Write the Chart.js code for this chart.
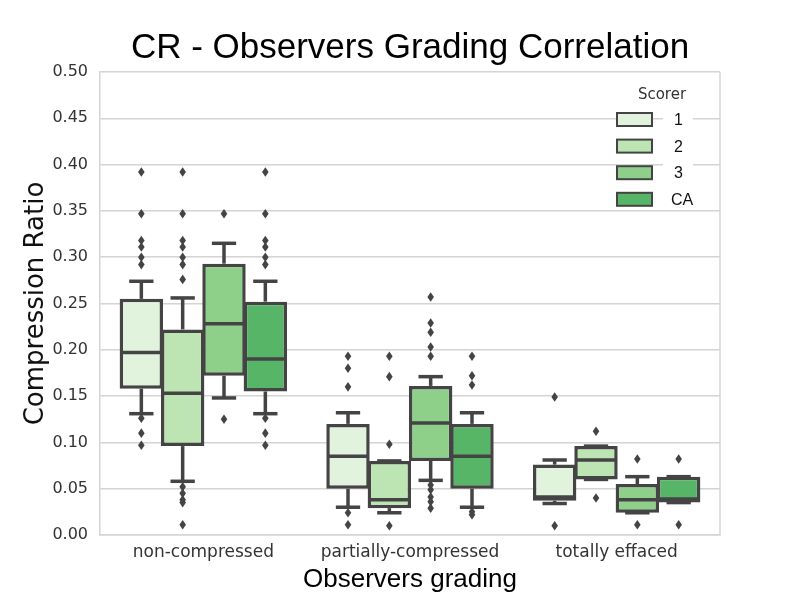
<!DOCTYPE html>
<html>
<head>
<meta charset="utf-8">
<script src="https://cdn.jsdelivr.net/npm/chart.js@4.4.0/dist/chart.umd.min.js"></script>
<style>
    html, body { margin: 0; padding: 0; background: #fff; }
</style>
</head>
<body>
<canvas id="myChart" width="800" height="600"></canvas>
<script>
const categories = ['non-compressed', 'partially-compressed', 'totally effaced'];
const scorers = ['1', '2', '3', 'CA'];
const yTicks = [0, 0.05, 0.10, 0.15, 0.20, 0.25, 0.30, 0.35, 0.40, 0.45, 0.50];

// rows = scorer, columns = category
const whiskerLow = [
    [0.131, 0.030, 0.034],
    [0.058, 0.024, 0.060],
    [0.148, 0.059, 0.024],
    [0.131, 0.030, 0.035]
];
const q1Values = [
    [0.158, 0.050, 0.037],
    [0.096, 0.029, 0.060],
    [0.172, 0.080, 0.024],
    [0.155, 0.050, 0.035]
];
const medians = [
    [0.197, 0.085, 0.041],
    [0.153, 0.038, 0.081],
    [0.228, 0.121, 0.038],
    [0.190, 0.085, 0.039]
];
const q3Values = [
    [0.255, 0.120, 0.076],
    [0.222, 0.080, 0.096],
    [0.293, 0.161, 0.055],
    [0.252, 0.120, 0.063]
];
const whiskerHigh = [
    [0.274, 0.132, 0.081],
    [0.256, 0.080, 0.096],
    [0.315, 0.171, 0.063],
    [0.274, 0.132, 0.063]
];
const outliers = [
    [[0.392, 0.347, 0.318, 0.311, 0.300, 0.292, 0.126, 0.110, 0.097], [0.193, 0.180, 0.160, 0.024, 0.011], [0.149, 0.010]],
    [[0.392, 0.347, 0.318, 0.311, 0.300, 0.292, 0.276, 0.052, 0.045, 0.038, 0.035, 0.011], [0.193, 0.171, 0.098, 0.010], [0.112, 0.040]],
    [[0.347, 0.125], [0.257, 0.229, 0.219, 0.203, 0.193, 0.054, 0.049, 0.041, 0.036, 0.029], [0.082, 0.011]],
    [[0.392, 0.347, 0.318, 0.311, 0.300, 0.292, 0.126, 0.110, 0.097], [0.193, 0.172, 0.162, 0.025, 0.022], [0.082, 0.011]]
];

const boxColors = ['#e1f3dc', '#bde5b4', '#8ecf8a', '#56b567'];
const lineColor = '#444444';
const gridColor = '#d4d4d4';

// whiskers, caps, medians and fliers on top of the floating bars
const boxPlotExtras = {
    id: 'boxPlotExtras',
    afterDatasetsDraw(chart) {
        const c = chart.ctx;
        const y = chart.scales.y;
        c.save();
        c.strokeStyle = lineColor;
        c.fillStyle = lineColor;
        c.lineWidth = 3.5;
        const line = (x1, y1, x2, y2) => {
            c.beginPath();
            c.moveTo(x1, y1);
            c.lineTo(x2, y2);
            c.stroke();
        };
        chart.data.datasets.forEach((ds, i) => {
            const meta = chart.getDatasetMeta(i);
            meta.data.forEach((bar, j) => {
                const x = bar.x;
                const w = bar.width;
                const cap = w * 0.28;
                const yq1 = y.getPixelForValue(q1Values[i][j]);
                const yq3 = y.getPixelForValue(q3Values[i][j]);
                const ylo = y.getPixelForValue(whiskerLow[i][j]);
                const yhi = y.getPixelForValue(whiskerHigh[i][j]);
                const ym = y.getPixelForValue(medians[i][j]);
                line(x, yq3, x, yhi);
                line(x, yq1, x, ylo);
                line(x - cap, yhi, x + cap, yhi);
                line(x - cap, ylo, x + cap, ylo);
                line(x - w / 2 + 1.5, ym, x + w / 2 - 1.5, ym);
                outliers[i][j].forEach(v => {
                    const py = y.getPixelForValue(v);
                    c.beginPath();
                    c.moveTo(x, py - 4.8);
                    c.lineTo(x + 3.3, py);
                    c.lineTo(x, py + 4.8);
                    c.lineTo(x - 3.3, py);
                    c.closePath();
                    c.fill();
                });
            });
        });
        c.restore();
    },
    afterDraw(chart) {
        const c = chart.ctx;
        const area = chart.chartArea;
        c.save();
        // right spine
        c.strokeStyle = gridColor;
        c.lineWidth = 1.5;
        c.beginPath();
        c.moveTo(area.right, area.top);
        c.lineTo(area.right, area.bottom);
        c.stroke();

        // legend
        c.fillStyle = '#333333';
        c.font = '15px "DejaVu Sans"';
        c.textAlign = 'center';
        c.textBaseline = 'middle';
        c.fillText('Scorer', 662, 95);
        chart.data.datasets.forEach((ds, i) => {
            const cy = 119.5 + i * 26.6;
            c.fillStyle = '#ffffff';
            c.fillRect(663, cy - 9, 30, 18);
            c.fillStyle = ds.backgroundColor;
            c.fillRect(617, cy - 6.5, 35, 13);
            c.strokeStyle = lineColor;
            c.lineWidth = 2;
            c.strokeRect(617, cy - 6.5, 35, 13);
            c.fillStyle = '#111111';
            c.font = '16px "Liberation Sans", Arial';
            c.textAlign = 'left';
            c.fillText(ds.label, ds.label.length > 1 ? 671 : 674, cy + 1);
        });
        c.restore();
    }
};

function createChart() {
    const ctx = document.getElementById('myChart').getContext('2d');
    const datasets = scorers.map((s, i) => ({
        label: s,
        data: q1Values[i].map((v, j) => [v, q3Values[i][j]]),
        backgroundColor: boxColors[i],
        borderColor: lineColor,
        borderWidth: 3.5,
        borderSkipped: false,
        categoryPercentage: 0.8,
        barPercentage: 1.05
    }));

    return new Chart(ctx, {
        type: 'bar',
        data: {
            labels: categories,
            datasets: datasets
        },
        options: {
            responsive: false,
            animation: false,
            layout: {
                padding: { top: 27, right: 80, bottom: 0, left: 0 }
            },
            scales: {
                x: {
                    afterFit: s => { s.height = 65; },
                    grid: { display: false, drawTicks: false },
                    border: { display: true, color: gridColor, width: 1.5 },
                    ticks: {
                        padding: 7,
                        color: '#333333',
                        font: { family: 'DejaVu Sans', size: 17 }
                    },
                    title: {
                        display: true,
                        text: 'Observers grading',
                        color: '#000000',
                        padding: { top: 0, bottom: 5 },
                        font: { family: 'Liberation Sans', size: 26 }
                    }
                },
                y: {
                    min: 0,
                    max: 0.5,
                    afterFit: s => { s.width = 100; },
                    afterBuildTicks: s => { s.ticks = yTicks.map(v => ({ value: v })); },
                    grid: { color: gridColor, lineWidth: 1.5, drawTicks: false },
                    border: { display: true, color: gridColor, width: 1.5 },
                    ticks: {
                        padding: 12,
                        color: '#333333',
                        font: { family: 'DejaVu Sans', size: 16 },
                        callback: v => Number(v).toFixed(2)
                    },
                    title: {
                        display: true,
                        text: 'Compression Ratio',
                        color: '#111111',
                        padding: { top: 21, bottom: 0 },
                        font: { family: 'DejaVu Sans', size: 26 }
                    }
                }
            },
            plugins: {
                legend: { display: false },
                tooltip: { enabled: false },
                title: {
                    display: true,
                    fullSize: false,
                    text: 'CR - Observers Grading Correlation',
                    color: '#000000',
                    padding: { top: 0, bottom: 3 },
                    font: { family: 'Liberation Sans', size: 35, weight: 'normal' }
                }
            }
        },
        plugins: [boxPlotExtras]
    });
}

createChart();
</script>
</body>
</html>
